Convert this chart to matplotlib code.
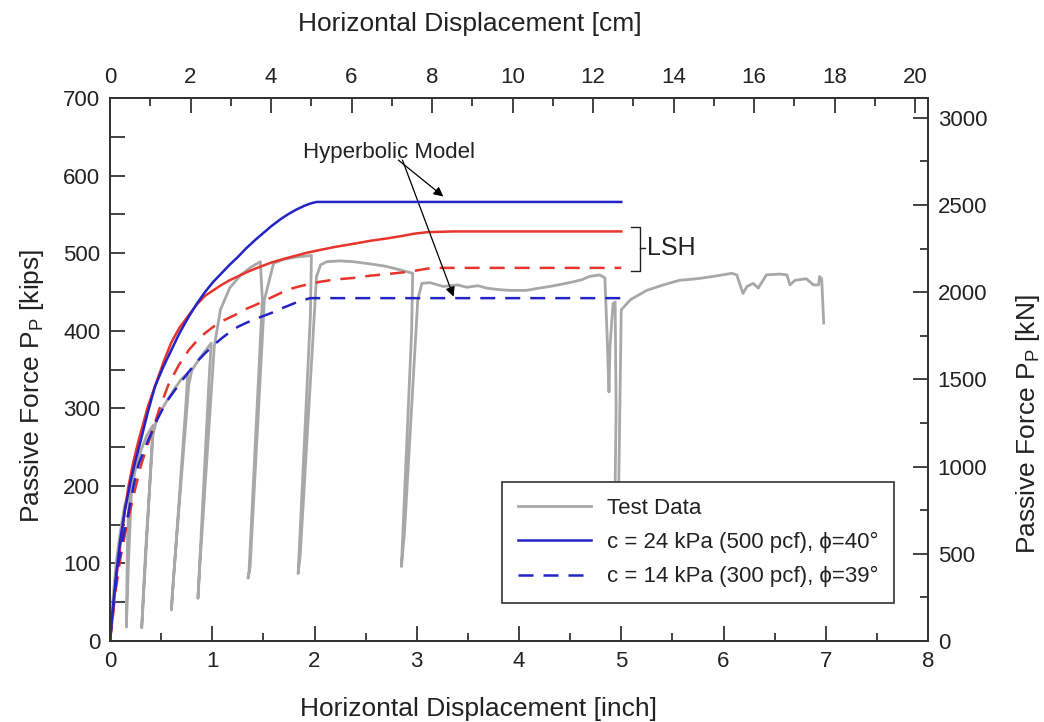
import numpy as np
import matplotlib
matplotlib.use("Agg")
import matplotlib.pyplot as plt
from matplotlib.ticker import MultipleLocator

plt.rcParams["font.family"] = ["Liberation Sans", "DejaVu Sans"]
plt.rcParams["mathtext.fontset"] = "custom"
plt.rcParams["mathtext.rm"] = "Liberation Sans"
plt.rcParams["mathtext.it"] = "Liberation Sans"

# ------------------------------
# Data (inch, kips)
# ------------------------------

test_x = [0, 0.03, 0.06, 0.10, 0.14, 0.19, 0.17, 0.16, 0.18, 0.21,
          0.25, 0.30, 0.36, 0.42, 0.38, 0.31, 0.35, 0.42,
          0.46, 0.54, 0.63, 0.70, 0.76, 0.74, 0.60, 0.62, 0.77,
          0.80, 0.88, 0.99, 0.97, 0.86, 0.88, 1.02,
          1.08, 1.17, 1.28, 1.38, 1.47, 1.49, 1.36, 1.35, 1.37, 1.51, 1.60,
          1.70, 1.82, 1.97, 1.96, 1.84, 1.86, 2.02, 2.06,
          2.12, 2.25, 2.38, 2.55, 2.70, 2.85, 2.96, 2.95, 2.85, 2.88, 3.01, 3.05,
          3.13, 3.26, 3.40, 3.49, 3.60, 3.68, 3.80, 3.91, 4.07, 4.20, 4.30,
          4.42, 4.53, 4.62, 4.69, 4.79, 4.84,
          4.86, 4.88, 4.89, 4.92, 4.94, 4.95, 4.93, 4.97, 5.00,
          5.09, 5.25, 5.41, 5.57, 5.74, 5.90, 6.08, 6.13, 6.19, 6.23, 6.29,
          6.34, 6.42, 6.55, 6.62, 6.65, 6.70, 6.81, 6.88, 6.93, 6.94, 6.96, 6.98]
test_y = [0, 55, 100, 140, 172, 198, 120, 18, 100, 195,
          222, 245, 265, 278, 180, 17, 120, 265,
          288, 306, 325, 338, 345, 300, 40, 80, 330,
          349, 365, 384, 340, 55, 100, 380,
          427, 455, 472, 482, 489, 440, 90, 81, 95, 440, 487,
          492, 495, 497, 420, 87, 110, 470, 485,
          489, 490, 489, 486, 483, 478, 474, 400, 96, 140, 440, 461,
          462, 457, 459, 456, 458, 455, 453, 452, 452, 455, 457,
          460, 463, 466, 470, 472, 468,
          400, 321, 380, 435, 437, 300, 100, 150, 427,
          440, 452, 459, 465, 467, 470, 474, 472, 448, 457, 461,
          455, 472, 473, 472, 459, 465, 467, 459, 459, 470, 467, 410]

lsh_hi_x = [0, 0.03, 0.06, 0.10, 0.14, 0.18, 0.23, 0.28, 0.37, 0.46, 0.53,
            0.60, 0.68, 0.77, 0.85, 0.93, 1.01, 1.09, 1.17, 1.25, 1.33,
            1.42, 1.50, 1.58, 1.74, 1.91, 2.05, 2.20, 2.38, 2.55, 2.71,
            2.85, 2.97, 3.10, 3.36, 5.0]
lsh_hi_y = [0, 36, 80, 122, 163, 199, 232, 259, 302, 336, 362,
            385, 404, 420, 434, 445, 452, 459, 465, 470, 475,
            480, 484, 488, 494, 500, 504, 508, 512, 516, 519,
            522, 525, 527, 528, 528]

lsh_lo_x = [0, 0.05, 0.10, 0.15, 0.20, 0.25, 0.30, 0.35, 0.40, 0.48, 0.57,
            0.67, 0.77, 0.85, 0.93, 1.01, 1.09, 1.17, 1.25, 1.33, 1.42,
            1.50, 1.58, 1.66, 1.74, 1.82, 1.91, 2.05, 2.20, 2.38, 2.55,
            2.71, 2.85, 2.97, 3.10, 3.20, 5.0]
lsh_lo_y = [0, 60, 105, 140, 170, 198, 225, 246, 265, 298, 330,
            355, 375, 387, 397, 405, 412, 417, 422, 428, 433,
            438, 443, 448, 453, 456, 459, 463, 466, 468, 471,
            473, 475, 477, 480, 481, 481]

c24_x = [0, 0.03, 0.06, 0.10, 0.15, 0.20, 0.25, 0.30, 0.37, 0.44, 0.52,
         0.60, 0.68, 0.77, 0.85, 0.93, 1.01, 1.09, 1.17, 1.25, 1.33,
         1.42, 1.50, 1.58, 1.66, 1.74, 1.82, 1.90, 1.96, 2.02, 5.0]
c24_y = [0, 45, 85, 130, 172, 205, 233, 258, 295, 328, 353,
         375, 397, 418, 435, 450, 463, 474, 485, 495, 506,
         517, 526, 535, 543, 550, 556, 561, 564, 566, 566]

c14_x = [0, 0.04, 0.08, 0.13, 0.18, 0.23, 0.28, 0.37, 0.46, 0.55, 0.66,
         0.77, 0.85, 0.93, 1.01, 1.09, 1.17, 1.25, 1.33, 1.42, 1.50,
         1.58, 1.66, 1.74, 1.85, 1.96, 5.0]
c14_y = [0, 55, 98, 135, 165, 200, 228, 258, 285, 308, 328,
         347, 360, 371, 381, 390, 398, 405, 410, 415, 419,
         423, 428, 432, 438, 442, 442]

labels = ["Test Data",
          "c = 24 kPa (500 pcf), \u03d5=40\u00b0",
          "c = 14 kPa (300 pcf), \u03d5=39\u00b0"]

KIP_TO_KN = 4.448
IN_TO_CM = 2.54

# ------------------------------
# Plot
# ------------------------------

blue = "#2323c8"
red = "#e8342c"
gray = "#a8a8a8"
ink = "#222222"

fig = plt.figure(figsize=(10.44, 7.22), dpi=100)
ax = fig.add_axes([110 / 1044, 1 - 641 / 722, 818 / 1044, 543 / 722])

h_test, = ax.plot(test_x, test_y, color=gray, lw=2.0, label=labels[0], zorder=2)
ax.plot(lsh_hi_x, lsh_hi_y, color=red, lw=1.8, zorder=3)
ax.plot(lsh_lo_x, lsh_lo_y, color=red, lw=1.8, dashes=(6, 4), zorder=3)
h_c24, = ax.plot(c24_x, c24_y, color=blue, lw=1.8, label=labels[1], zorder=4)
h_c14, = ax.plot(c14_x, c14_y, color=blue, lw=1.8, dashes=(6, 4),
                 label=labels[2], zorder=4)

ax.set_xlim(0, 8)
ax.set_ylim(0, 700)
ax.xaxis.set_major_locator(MultipleLocator(1))
ax.xaxis.set_minor_locator(MultipleLocator(0.5))
ax.yaxis.set_major_locator(MultipleLocator(100))
ax.yaxis.set_minor_locator(MultipleLocator(50))
ax.tick_params(which="both", direction="in", labelsize=16, colors=ink,
               width=1.2)
ax.tick_params(which="major", length=11, pad=7)
ax.tick_params(which="minor", length=6)
ax.tick_params(axis="y", which="minor", length=11)
ax.set_xlabel("Horizontal Displacement [inch]", fontsize=19, color=ink)
ax.xaxis.set_label_coords(0.45, -0.104)
ax.set_ylabel(r"Passive Force P$_\mathrm{P}$ [kips]", fontsize=19, color=ink)
ax.yaxis.set_label_coords(-0.078, 0.47)

# top axis in cm
axt = ax.twiny()
axt.set_xlim(0, 8 * IN_TO_CM)
axt.xaxis.set_major_locator(MultipleLocator(2))
axt.xaxis.set_minor_locator(MultipleLocator(1))
axt.tick_params(which="both", direction="in", labelsize=16, colors=ink,
                width=1.2)
axt.tick_params(which="major", length=11, pad=7)
axt.tick_params(which="minor", length=6)
axt.set_xlabel("Horizontal Displacement [cm]", fontsize=19, color=ink)
axt.xaxis.set_label_coords(0.44, 1.123)

# right axis in kN
axr = ax.twinx()
axr.set_ylim(0, 700 * KIP_TO_KN)
axr.yaxis.set_major_locator(MultipleLocator(500))
axr.yaxis.set_minor_locator(MultipleLocator(250))
axr.tick_params(which="both", direction="in", labelsize=16, colors=ink,
                width=1.2)
axr.tick_params(which="major", length=11, pad=7)
axr.tick_params(which="minor", length=6)
axr.set_ylabel(r"Passive Force P$_\mathrm{P}$ [kN]", fontsize=19, color=ink)
axr.yaxis.set_label_coords(1.105, 0.40)

for a in (ax, axt, axr):
    for s in a.spines.values():
        s.set_linewidth(1.4)
        s.set_color("#333333")

# annotations
ax.text(1.89, 630, "Hyperbolic Model", fontsize=16, color=ink,
        ha="left", va="center", zorder=6)
ax.annotate("", xy=(3.26, 573), xytext=(2.82, 620),
            arrowprops=dict(arrowstyle="-|>", color="black", lw=0.9,
                            mutation_scale=14, shrinkA=0, shrinkB=0))
ax.annotate("", xy=(3.36, 444), xytext=(2.86, 620),
            arrowprops=dict(arrowstyle="-|>", color="black", lw=0.9,
                            mutation_scale=14, shrinkA=0, shrinkB=0))

# LSH bracket
ax.plot([5.10, 5.18, 5.18, 5.10], [534, 534, 477, 477], color=ink, lw=1.0)
ax.plot([5.18, 5.23], [506, 506], color=ink, lw=1.0)
ax.text(5.25, 506, "LSH", fontsize=18, color=ink, ha="left", va="center")

leg = ax.legend(handles=[h_test, h_c24, h_c14], loc="lower right",
                bbox_to_anchor=(0.958, 0.07), fontsize=16, frameon=True,
                framealpha=1, fancybox=False, edgecolor="#333333",
                handlelength=3.3, handletextpad=0.7, labelspacing=0.6,
                borderpad=0.7, borderaxespad=0)
leg.get_frame().set_linewidth(1.2)
leg.set_zorder(10)
for t in leg.get_texts():
    t.set_color(ink)

fig.savefig("out.png", dpi=100)
